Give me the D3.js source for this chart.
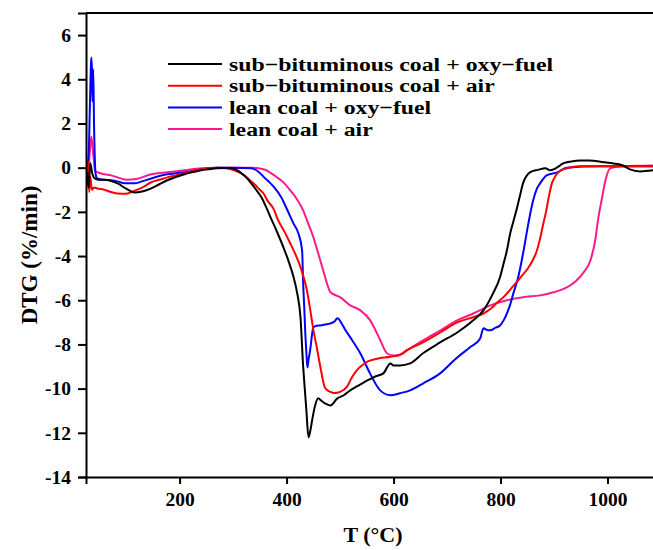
<!DOCTYPE html>
<html>
<head>
<meta charset="utf-8">
<script src="https://cdn.jsdelivr.net/npm/d3@7"></script>
<style>
  body { margin: 0; background: #fff; }
  text { font-family: "Liberation Serif", "Times New Roman", serif; font-weight: bold; fill: #000; }
</style>
</head>
<body>
<div id="chart"></div>
<script>
// temperature (°C) and DTG (%/min), one pair per run
const subOxyT = [27, 30, 33, 37, 42, 50, 60, 72, 84, 100, 115, 130, 147, 162, 177, 193, 209, 225, 240, 255, 270, 285, 297, 308, 316, 325, 334, 343, 353, 362, 370, 382, 394, 404, 413, 420, 426, 431, 434, 437, 441, 444, 448, 453, 459, 465, 472, 482, 495, 507, 519, 535, 551, 566, 581, 594, 600, 612, 631, 655, 687, 719, 749, 768, 786, 799, 805, 812, 818, 825, 831, 837, 842, 848, 855, 870, 884, 893, 906, 917, 932, 949, 965, 981, 995, 1011, 1029, 1042, 1061, 1085];
const subOxyDTG = [-0.2, -0.9, 0.2, -0.3, -0.5, -0.55, -0.55, -0.6, -0.71, -0.95, -1.12, -1.08, -0.94, -0.75, -0.57, -0.42, -0.3, -0.2, -0.12, -0.07, -0.03, -0.02, -0.03, -0.12, -0.26, -0.45, -0.71, -1.0, -1.34, -1.8, -2.25, -2.9, -3.6, -4.25, -4.95, -5.7, -6.77, -9.0, -10.0, -10.98, -12.2, -11.95, -11.4, -10.8, -10.44, -10.55, -10.67, -10.76, -10.44, -10.3, -10.08, -9.85, -9.63, -9.45, -9.31, -8.86, -8.95, -8.95, -8.86, -8.4, -7.91, -7.46, -6.91, -6.46, -5.69, -4.96, -4.4, -3.74, -2.98, -2.35, -1.8, -1.2, -0.71, -0.4, -0.21, -0.1, -0.03, -0.12, 0.01, 0.19, 0.28, 0.33, 0.32, 0.29, 0.24, 0.19, 0.1, -0.08, -0.17, -0.12];

const subAirT = [27, 29, 31, 33, 36, 40, 46, 59, 72, 84, 100, 115, 130, 147, 162, 177, 193, 209, 225, 240, 255, 270, 287, 302, 321, 332, 340, 350, 357, 364, 377, 382, 395, 407, 417, 426, 438, 444, 450, 457, 463, 472, 482, 490, 500, 513, 522, 532, 541, 551, 569, 594, 612, 625, 655, 687, 719, 749, 768, 781, 794, 805, 824, 838, 850, 860, 868, 874, 880, 885, 889, 893, 896, 901, 906, 915, 924, 949, 1011, 1085];
const subAirDTG = [-0.2, 0.3, -1.1, -0.4, -1.0, -0.9, -0.94, -1.0, -1.1, -1.17, -1.18, -1.05, -0.9, -0.66, -0.55, -0.44, -0.35, -0.26, -0.15, -0.08, -0.03, 0.0, -0.03, -0.12, -0.35, -0.58, -0.75, -1.0, -1.17, -1.48, -1.93, -2.26, -2.85, -3.43, -3.95, -4.5, -5.55, -6.4, -7.33, -8.2, -9.0, -9.97, -10.15, -10.2, -10.15, -9.91, -9.5, -9.15, -8.95, -8.78, -8.65, -8.56, -8.47, -8.26, -7.91, -7.46, -7.0, -6.77, -6.6, -6.4, -6.1, -5.87, -5.35, -4.95, -4.6, -4.2, -3.75, -3.2, -2.53, -2.0, -1.48, -1.0, -0.71, -0.45, -0.26, -0.1, -0.03, 0.06, 0.06, 0.06];

const leanOxyT = [27, 30, 32, 34, 35, 36, 37, 38.5, 40, 43, 46, 59, 72, 84, 97, 115, 130, 147, 162, 177, 193, 209, 225, 240, 270, 302, 334, 351, 358, 370, 377, 390, 402, 413, 422, 429, 431, 433, 435, 437, 439, 441, 444, 450, 456, 463, 472, 482, 490, 495, 503, 510, 519, 538, 556, 575, 594, 612, 631, 655, 687, 719, 743, 762, 768, 775, 781, 790, 799, 806, 812, 818, 824, 833, 842, 852, 861, 868, 874, 886, 906, 924, 981, 1085];
const leanOxyDTG = [0.0, 0.6, 2.5, 4.5, 4.99, 4.5, 3.0, 4.45, 2.0, -0.3, -0.49, -0.55, -0.57, -0.62, -0.71, -0.71, -0.62, -0.49, -0.38, -0.3, -0.25, -0.21, -0.14, -0.08, 0.0, 0.0, -0.03, -0.26, -0.44, -0.71, -0.89, -1.34, -1.95, -2.53, -2.97, -3.74, -5.24, -6.3, -7.5, -8.4, -9.04, -8.7, -8.27, -7.23, -7.15, -7.14, -7.1, -7.05, -6.95, -6.82, -7.05, -7.35, -7.68, -8.41, -9.31, -10.08, -10.3, -10.21, -10.08, -9.77, -9.31, -8.59, -8.13, -7.73, -7.27, -7.35, -7.36, -7.25, -7.14, -6.9, -6.59, -6.2, -5.69, -4.96, -3.9, -2.53, -1.48, -0.95, -0.71, -0.35, -0.21, 0.0, 0.06, 0.06];

const leanAirT = [27, 29, 31, 33, 35, 37, 39, 42, 46, 59, 72, 85, 102, 121, 147, 177, 209, 240, 270, 334, 358, 377, 396, 407, 420, 431, 440, 450, 457, 463, 472, 477, 482, 500, 519, 538, 556, 565, 575, 588, 600, 612, 625, 655, 687, 719, 749, 781, 812, 842, 874, 899, 924, 940, 955, 968, 977, 983, 990, 996, 1005, 1024, 1085];
const leanAirDTG = [0.3, -0.9, 0.3, 1.0, 1.4, 1.0, 0.5, -0.15, -0.2, -0.3, -0.35, -0.45, -0.55, -0.5, -0.3, -0.21, -0.12, -0.03, 0.0, 0.0, -0.08, -0.35, -0.71, -1.03, -1.45, -1.93, -2.5, -3.15, -3.7, -4.2, -4.95, -5.35, -5.64, -5.86, -6.23, -6.46, -6.9, -7.3, -7.8, -8.41, -8.5, -8.47, -8.27, -7.82, -7.37, -6.91, -6.6, -6.23, -6.0, -5.86, -5.78, -5.64, -5.42, -5.15, -4.75, -4.2, -3.29, -2.25, -1.34, -0.58, -0.03, 0.06, 0.1];

const seriesNames = ['sub\u2212bituminous coal + oxy\u2212fuel', 'sub\u2212bituminous coal + air', 'lean coal + oxy\u2212fuel', 'lean coal + air'];
const seriesColors = ['#000000', '#ff0000', '#0000ff', '#ff1a8c'];
const xTicks = [200, 400, 600, 800, 1000];
const yTicks = [-14, -12, -10, -8, -6, -4, -2, 0, 2, 4, 6];

const width = 653, height = 550;
const margin = { top: 13, right: -8, bottom: 73, left: 86 };

const svg = d3.select('#chart').append('svg')
  .attr('width', width)
  .attr('height', height);

const x = d3.scaleLinear().domain([25, 1100]).range([margin.left, width - margin.right]);
const y = d3.scaleLinear().domain([-14, 7]).range([height - margin.bottom, margin.top]);

svg.append('clipPath').attr('id', 'plot')
  .append('rect')
  .attr('x', margin.left).attr('y', margin.top)
  .attr('width', width - margin.right - margin.left)
  .attr('height', height - margin.bottom - margin.top);

const series = [
  { t: subOxyT, v: subOxyDTG },
  { t: subAirT, v: subAirDTG },
  { t: leanOxyT, v: leanOxyDTG },
  { t: leanAirT, v: leanAirDTG }
];

const line = d3.line()
  .x(d => x(d[0]))
  .y(d => y(d[1]))
  .curve(d3.curveMonotoneX);

// draw in reverse so the black curve sits on top
const g = svg.append('g').attr('clip-path', 'url(#plot)');
[3, 2, 1, 0].forEach(i => {
  const s = series[i];
  g.append('path')
    .datum(s.t.map((t, k) => [t, s.v[k]]))
    .attr('d', line)
    .attr('fill', 'none')
    .attr('stroke', seriesColors[i])
    .attr('stroke-width', 2)
    .attr('stroke-linejoin', 'round');
});

// axes
const xAxis = svg.append('g')
  .attr('transform', `translate(0,${height - margin.bottom})`)
  .call(d3.axisBottom(x).tickValues(xTicks).tickSize(7).tickPadding(8).tickFormat(d3.format('d')));
const yAxis = svg.append('g')
  .attr('transform', `translate(${margin.left},0)`)
  .call(d3.axisLeft(y).tickValues(yTicks).tickSize(8).tickPadding(7).tickFormat(d => String(d)));

[xAxis, yAxis].forEach(a => {
  a.select('.domain').attr('stroke', '#000').attr('stroke-width', 2);
  a.selectAll('.tick line').attr('stroke', '#000').attr('stroke-width', 2);
  a.selectAll('.tick text').style('font-size', '19.5px').style('font-family', '"Liberation Serif", serif').style('font-weight', 'bold');
});

// top frame
svg.append('line')
  .attr('x1', margin.left).attr('x2', width)
  .attr('y1', margin.top).attr('y2', margin.top)
  .attr('stroke', '#000').attr('stroke-width', 2);

// axis titles
svg.append('text')
  .attr('x', 373).attr('y', 542)
  .attr('text-anchor', 'middle')
  .style('font-size', '22px')
  .text('T (\u00b0C)');

svg.append('text')
  .attr('transform', 'translate(37,255) rotate(-90)')
  .attr('text-anchor', 'middle')
  .style('font-size', '23px')
  .text('DTG (%/min)');

// legend: the source text is set wide, so stretch it a little
const legend = svg.append('g');
seriesNames.forEach((name, i) => {
  const ly = 64 + i * 21.7;
  legend.append('line')
    .attr('x1', 168).attr('x2', 222)
    .attr('y1', ly).attr('y2', ly)
    .attr('stroke', seriesColors[i]).attr('stroke-width', 2);
  legend.append('text')
    .attr('transform', `translate(229,${ly + 6.5}) scale(1.22,1)`)
    .style('font-size', '19.5px')
    .text(name);
});
</script>
</body>
</html>
